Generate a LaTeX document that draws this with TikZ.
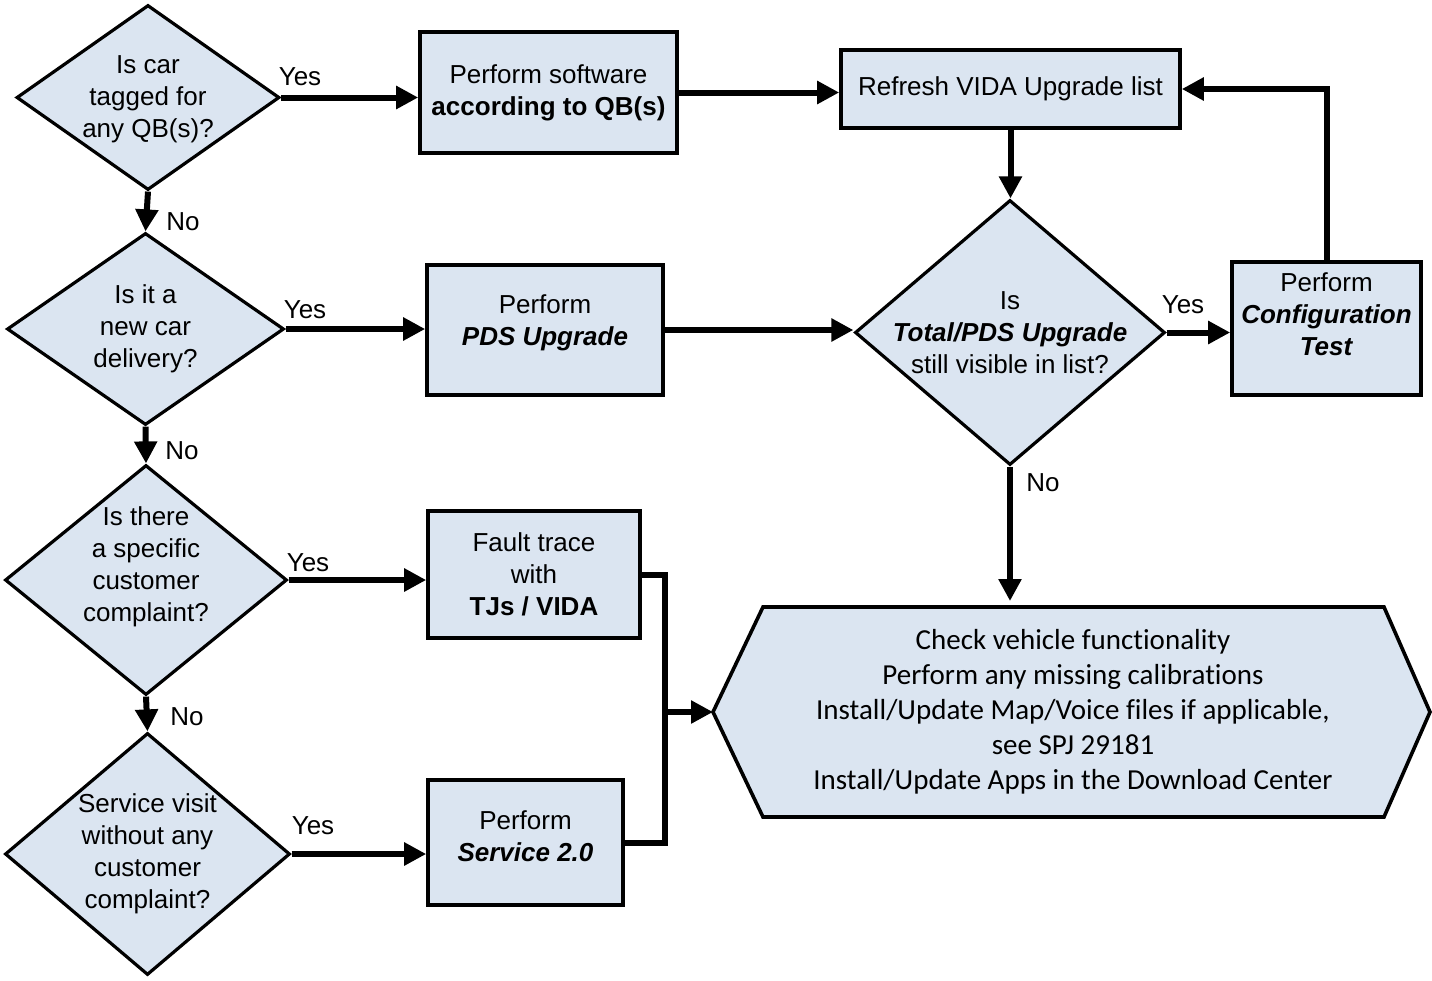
\documentclass[tikz,border=0pt]{standalone}
\usepackage{fontspec}
\setmainfont{Liberation Sans}
\newfontfamily\calibfont[Ligatures=CommonOff]{Carlito}
\usetikzlibrary{shapes.geometric,arrows.meta,positioning}
\definecolor{boxblue}{HTML}{DBE5F1}
\tikzset{
  decision/.style={diamond, draw, line width=1.6pt, fill=boxblue, inner sep=0pt},
  dtext/.style={align=center, inner sep=0pt, font=\fontsize{13}{16}\selectfont},
  process/.style={rectangle, draw, line width=1.8pt, fill=boxblue, align=center, inner sep=2pt, font=\fontsize{13}{16}\selectfont},
  flow/.style={line width=3pt, -{Triangle[length=11pt,width=11pt]}},
  lbl/.style={inner sep=0pt, font=\fontsize{13}{16}\selectfont}
}
\begin{document}
\begin{tikzpicture}[x=0.5pt,y=-0.5pt]
\useasboundingbox (0,0) rectangle (1432,981);
% questions
\node[decision, minimum width=131.5pt, minimum height=92.5pt] (d1) at (148,97.5) {};
\node[dtext] (d1t) at ([yshift=-1pt]d1) {Is car\\tagged for\\any QB(s)?};
\node[decision, minimum width=138.5pt, minimum height=96pt] (d2) at (145.5,329) {};
\node[dtext] (d2t) at (d2) {Is it a\\new car\\delivery?};
\node[decision, minimum width=141pt, minimum height=115pt] (d3) at (146,580) {};
\node[dtext] (d3t) at ([yshift=6.5pt]d3) {Is there\\a specific\\customer\\complaint?};
\node[decision, minimum width=142.5pt, minimum height=121pt] (d4) at (147.5,854) {};
\node[dtext] (d4t) at (d4) {Service visit\\without any\\customer\\complaint?};
\node[decision, minimum width=155pt, minimum height=132.5pt] (dc) at (1010,332.5) {};
\node[dtext] (dct) at (dc) {Is\\\textbf{\textit{Total/PDS Upgrade}}\\still visible in list?};
% actions
\node[process, minimum width=128.5pt, minimum height=60.5pt] (b1) at (548.5,92.5) {Perform software\\\textbf{according to QB(s)}};
\node[process, minimum width=118pt, minimum height=65pt, text depth=9.5pt] (b2) at (545,330) {Perform\\\textbf{\textit{PDS Upgrade}}};
\node[process, minimum width=106pt, minimum height=63.5pt] (fault) at (534,574.5) {Fault trace\\with\\\textbf{TJs / VIDA}};
\node[process, minimum width=97.5pt, minimum height=62.5pt, text depth=6pt] (svc) at (525.5,842.5) {Perform\\\textbf{\textit{Service 2.0}}};
\node[process, minimum width=169.5pt, minimum height=39pt] (refresh) at (1010.5,89) {Refresh VIDA Upgrade list};
\node[process, minimum width=94.5pt, minimum height=66.5pt, text depth=14pt] (ct) at (1326.5,328.5) {Perform\\\textbf{\textit{Configuration}}\\\textbf{\textit{Test}}};
% final checks
\coordinate (hexL) at (713,712);
\coordinate (hexT) at (1010,607);
\draw[line width=1.8pt, fill=boxblue] (hexL) -- (763,607) -- (1384,607) -- (1430,712) -- (1384,817) -- (763,817) -- cycle;
\node[align=center, font=\calibfont\fontsize{14.5}{17.5}\selectfont] (check) at (1073,712) {Check vehicle functionality\\Perform any missing calibrations\\Install/Update Map/Voice files if applicable,\\see SPJ 29181\\Install/Update Apps in the Download Center};
% connectors
\draw[flow] (d1.east) -- (d1.east -| b1.west);
\draw[flow] (d2.east) -- (d2.east -| b2.west);
\draw[flow] (d3.east) -- (d3.east -| fault.west);
\draw[flow] (d4.east) -- (d4.east -| svc.west);
\draw[flow] (d1.south) -- (d2.north);
\draw[flow] (d2.south) -- (d3.north);
\draw[flow] (d3.south) -- (d4.north);
\draw[flow] (b1.east) -- (b1.east -| refresh.west);
\draw[flow] (refresh.south) -- (refresh.south |- dc.north);
\draw[flow] (b2.east) -- (b2.east -| dc.west);
\draw[flow] (dc.east) -- (dc.east -| ct.west);
\draw[flow] (ct.north) |- (refresh.east);
\draw[flow] (dc.south) -- ([yshift=3pt]hexT);
\coordinate (join) at (665,712);
\draw[line width=3pt] (fault.east) -| (join) |- (svc.east);
\draw[flow] (join) -- (hexL);
% labels
\node[lbl] (yes1) at (300,77) {Yes};
\node[lbl] (yes2) at (305,310) {Yes};
\node[lbl] (yes3) at (308,563) {Yes};
\node[lbl] (yes4) at (313,826) {Yes};
\node[lbl] (yes5) at (1183,305) {Yes};
\node[lbl] (no1) at (183,222) {No};
\node[lbl] (no2) at (182,451) {No};
\node[lbl] (no3) at (187,717) {No};
\node[lbl] (no4) at (1043,483) {No};
\end{tikzpicture}
\end{document}
